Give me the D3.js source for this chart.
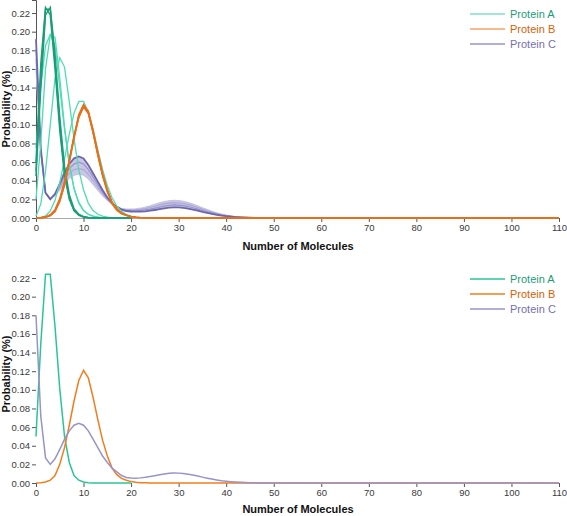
<!DOCTYPE html>
<html>
<head>
<meta charset="utf-8">
<script src="https://cdn.jsdelivr.net/npm/d3@7"></script>
<style>
  body { margin: 0; background: #fff; }
  svg { display: block; font-family: "Liberation Sans", Arial, sans-serif; }
</style>
</head>
<body>
<svg id="chart" width="567" height="516"></svg>
<script>
// ---------- data ----------
const moleculeCounts = [0,1,2,3,4,5,6,7,8,9,10,11,12,13,14,15,16,17,18,19,20,21,22,23,24,25,26,27,28,29,30,31,32,33,34,35,36,37,38,39,40,41,42,43,44,45,46,47,48,49,50,110];
const xTicks = [0,10,20,30,40,50,60,70,80,90,100,110];
const yTicks = [0,0.02,0.04,0.06,0.08,0.10,0.12,0.14,0.16,0.18,0.20,0.22];
const proteinNames = ["Protein A","Protein B","Protein C"];

// Top chart: ensemble runs, Protein A (0..20 molecules)
const proteinA_runDark1 = [0.050,0.149,0.224,0.224,0.168,0.101,0.050,0.022,0.008,0.003,0.001,0.0003,0.0001,0,0,0,0,0,0,0,0];
const proteinA_runDark2 = [0.060,0.165,0.226,0.218,0.160,0.094,0.046,0.020,0.008,0.003,0.001,0.0003,0.0001,0,0,0,0,0,0,0,0];
const proteinA_runDark3 = [0.045,0.140,0.218,0.226,0.175,0.108,0.055,0.025,0.010,0.004,0.0015,0.0005,0.0002,0,0,0,0,0,0,0,0];
const proteinA_runLight1 = [0.075,0.140,0.185,0.197,0.185,0.140,0.095,0.058,0.032,0.017,0.008,0.004,0.002,0.001,0,0,0,0,0,0,0];
const proteinA_runLight2 = [0.020,0.080,0.160,0.196,0.194,0.150,0.098,0.058,0.031,0.016,0.008,0.004,0.002,0.001,0.0004,0,0,0,0,0,0];
const proteinA_runLight3 = [0.002,0.015,0.050,0.100,0.150,0.172,0.162,0.125,0.085,0.052,0.030,0.016,0.008,0.004,0.002,0.001,0,0,0,0,0];
const proteinA_runLight4 = [0.0000,0.0005,0.0023,0.0076,0.0189,0.0378,0.0631,0.0901,0.1126,0.1251,0.1251,0.1137,0.0948,0.0729,0.0521,0.0347,0.0217,0.0128,0.0071,0.0037,0.0019];

// Top chart: ensemble runs, Protein B (0..50, 110)
const proteinB_run1 = [0.0001,0.0003,0.001,0.003,0.008,0.020,0.038,0.062,0.088,0.110,0.121,0.113,0.092,0.068,0.046,0.029,0.016,0.009,0.005,0.003,0.0015,0.0008,0.0004,0.0002,0.0001,0,0,0,0,0,0,0,0,0,0,0,0,0,0,0,0,0,0,0,0,0,0,0,0,0,0,0];
const proteinB_run2 = [0.0001,0.0004,0.0012,0.0035,0.009,0.021,0.039,0.062,0.087,0.108,0.119,0.112,0.092,0.069,0.047,0.030,0.017,0.010,0.0055,0.003,0.0016,0.0008,0.0004,0.0002,0.0001,0,0,0,0,0,0,0,0,0,0,0,0,0,0,0,0,0,0,0,0,0,0,0,0,0,0,0];
const proteinB_run3 = [0.0001,0.0002,0.0008,0.0025,0.007,0.018,0.036,0.061,0.088,0.111,0.122,0.114,0.092,0.067,0.045,0.028,0.015,0.008,0.0045,0.0025,0.0013,0.0007,0.0003,0.0001,0.0001,0,0,0,0,0,0,0,0,0,0,0,0,0,0,0,0,0,0,0,0,0,0,0,0,0,0,0];
const proteinB_run4 = [0.0001,0.0002,0.0008,0.0025,0.007,0.018,0.035,0.059,0.085,0.108,0.120,0.115,0.095,0.071,0.048,0.030,0.017,0.0095,0.005,0.003,0.0015,0.0008,0.0004,0.0002,0.0001,0,0,0,0,0,0,0,0,0,0,0,0,0,0,0,0,0,0,0,0,0,0,0,0,0,0,0];

// Top chart: ensemble runs, Protein C (0..50, 110)
const proteinC_run1 = [0.192,0.075,0.027,0.020,0.026,0.037,0.049,0.058,0.064,0.066,0.064,0.057,0.048,0.039,0.030,0.022,0.016,0.012,0.009,0.0075,0.007,0.0068,0.0069,0.0072,0.0078,0.0086,0.0095,0.0104,0.0111,0.0115,0.0114,0.0109,0.0101,0.0091,0.0079,0.0067,0.0055,0.0044,0.0034,0.0026,0.0019,0.0014,0.0010,0.0007,0.0005,0.0003,0.0002,0.0001,0.0001,0,0,0];
const proteinC_run2 = [0.181,0.073,0.027,0.020,0.025,0.035,0.045,0.053,0.058,0.060,0.058,0.052,0.044,0.036,0.028,0.021,0.016,0.012,0.0093,0.0082,0.0078,0.0078,0.0081,0.0087,0.0095,0.0106,0.0117,0.0128,0.0136,0.0140,0.0139,0.0133,0.0123,0.0110,0.0096,0.0081,0.0067,0.0053,0.0041,0.0031,0.0023,0.0017,0.0012,0.0008,0.0006,0.0003,0.0002,0.0001,0.0001,0,0,0];
const proteinC_run3 = [0.171,0.072,0.027,0.021,0.025,0.032,0.041,0.048,0.052,0.053,0.052,0.047,0.040,0.033,0.026,0.020,0.015,0.012,0.0097,0.0088,0.0087,0.0088,0.0093,0.0101,0.0113,0.0126,0.0140,0.0151,0.0160,0.0165,0.0163,0.0156,0.0144,0.0130,0.0113,0.0096,0.0078,0.0063,0.0049,0.0037,0.0027,0.0019,0.0013,0.0009,0.0006,0.0004,0.0003,0.0002,0.0001,0.0001,0,0];
const proteinC_run4 = [0.160,0.070,0.027,0.021,0.024,0.030,0.037,0.043,0.046,0.047,0.046,0.042,0.036,0.030,0.024,0.019,0.015,0.012,0.010,0.0095,0.0095,0.0098,0.0105,0.0116,0.0130,0.0146,0.0162,0.0175,0.0185,0.0190,0.0188,0.0180,0.0166,0.0149,0.0130,0.0110,0.0090,0.0072,0.0056,0.0042,0.0031,0.0022,0.0015,0.0010,0.0007,0.0004,0.0003,0.0002,0.0001,0.0001,0,0];

// Bottom chart: single distributions
const proteinA_final = [0.050,0.149,0.224,0.224,0.168,0.101,0.050,0.022,0.008,0.003,0.001,0.0003,0.0001,0,0,0,0,0,0,0,0];
const proteinB_final = [0.0001,0.0003,0.001,0.003,0.008,0.020,0.038,0.062,0.088,0.110,0.121,0.113,0.092,0.068,0.046,0.029,0.016,0.009,0.005,0.003,0.0015,0.0008,0.0004,0.0002,0.0001,0,0,0,0,0,0,0,0,0,0,0,0,0,0,0,0,0,0,0,0,0,0,0,0,0,0,0];
const proteinC_final = [0.180,0.072,0.027,0.020,0.026,0.036,0.047,0.056,0.062,0.064,0.062,0.056,0.047,0.038,0.029,0.022,0.016,0.012,0.008,0.006,0.0053,0.0052,0.0055,0.0061,0.0069,0.0078,0.0088,0.0097,0.0104,0.0107,0.0106,0.0101,0.0094,0.0085,0.0074,0.0063,0.0052,0.0042,0.0033,0.0025,0.0019,0.0014,0.0010,0.0007,0.0005,0.0003,0.0002,0.0001,0.0001,0,0,0];

// ---------- drawing ----------
const svg = d3.select("#chart");
const left = 36, right = 559;
const x = d3.scaleLinear().domain([0,110]).range([left, right]);
const yMax = 0.234;
const yTop = d3.scaleLinear().domain([0, yMax]).range([218, 0]);
const yBot = d3.scaleLinear().domain([0, yMax]).range([483, 265]);

function pts(values) { return values.map((v,i) => [moleculeCounts[i], v]); }
function lineGen(y) { return d3.line().x(d => x(d[0])).y(d => y(d[1])); }

function drawAxes(g, y, withDomain, yBase) {
  const xa = g.append("g").attr("transform", `translate(0,${yBase})`)
    .call(d3.axisBottom(x).tickValues(xTicks).tickSize(4).tickPadding(2).tickFormat(d3.format("d")));
  const ya = g.append("g").attr("transform", `translate(${left},0)`)
    .call(d3.axisLeft(y).tickValues(yTicks).tickSize(4).tickPadding(2).tickFormat(d3.format(".2f")));
  [xa, ya].forEach(a => {
    a.selectAll("text").attr("fill", "#3a3a3a").style("font-size", "9.5px").style("font-family", "Liberation Sans, Arial, sans-serif");
    a.selectAll(".tick line").attr("stroke", "#555");
  });
  if (withDomain) {
    xa.select(".domain").attr("stroke", "#aaa");
    ya.select(".domain").attr("stroke", "#555");
  } else {
    xa.select(".domain").remove();
    ya.select(".domain").remove();
  }
}

function titles(g, yMid, xTitleY) {
  g.append("text").attr("x", 298).attr("y", xTitleY).attr("text-anchor", "middle")
    .style("font-size", "11px").style("font-weight", "bold").attr("fill", "#111").text("Number of Molecules");
  g.append("text").attr("transform", `translate(10,${yMid}) rotate(-90)`).attr("text-anchor", "middle")
    .style("font-size", "11px").style("font-weight", "bold").attr("fill", "#111").text("Probability (%)");
}

function legend(g, y0, lineColors) {
  const textColors = ["#1b9e77", "#d95f02", "#7570b3"];
  proteinNames.forEach((name, i) => {
    const yy = y0 + i * 15;
    g.append("line").attr("x1", 470).attr("x2", 505).attr("y1", yy).attr("y2", yy)
      .attr("stroke", lineColors[i]).attr("stroke-width", 1.5);
    g.append("text").attr("x", 510).attr("y", yy).attr("dy", "0.35em")
      .style("font-size", "11px").attr("fill", textColors[i]).text(name);
  });
}

// ----- top chart -----
const topG = svg.append("g");
drawAxes(topG, yTop, true, 218);
const lt = lineGen(yTop);

// purple band (spread of runs)
const cBand = d3.area().x((d,i) => x(moleculeCounts[i])).y0((d,i) => yTop(proteinC_run1[i])).y1((d,i) => yTop(proteinC_run4[i]));
topG.append("path").datum(proteinC_run1).attr("d", cBand).attr("fill", "#bfbcdf").attr("opacity", 0.85);
[[proteinC_run4, "#c6c3e3", 1.2], [proteinC_run3, "#aeaad6", 1.2], [proteinC_run2, "#9893c8", 1.2], [proteinC_run1, "#6c66ae", 1.8]].forEach(([vals, col, w]) => {
  topG.append("path").datum(pts(vals)).attr("d", lt).attr("fill", "none").attr("stroke", col).attr("stroke-width", w);
});

[proteinA_runLight1, proteinA_runLight2, proteinA_runLight3, proteinA_runLight4].forEach(vals => {
  topG.append("path").datum(pts(vals)).attr("d", lt).attr("fill", "none").attr("stroke", "#4fdcb4").attr("stroke-width", 1.3);
});
[proteinA_runDark1, proteinA_runDark2, proteinA_runDark3].forEach(vals => {
  topG.append("path").datum(pts(vals)).attr("d", lt).attr("fill", "none").attr("stroke", "#1b9e77").attr("stroke-width", 1.5);
});
[proteinB_run1, proteinB_run2, proteinB_run3, proteinB_run4].forEach(vals => {
  topG.append("path").datum(pts(vals)).attr("d", lt).attr("fill", "none").attr("stroke", "#e86f1a").attr("stroke-width", 1.4);
});
titles(topG, 109, 250);
legend(topG, 14, ["#7fe2c6", "#f4a366", "#9893c8"]);

// ----- bottom chart -----
const botG = svg.append("g");
drawAxes(botG, yBot, false, 483);
const lb = lineGen(yBot);
[[proteinA_final, "#2ac597"], [proteinB_final, "#f07d1e"], [proteinC_final, "#9893c8"]].forEach(([vals, col]) => {
  botG.append("path").datum(pts(vals)).attr("d", lb).attr("fill", "none").attr("stroke", col).attr("stroke-width", 1.5);
});
titles(botG, 374, 513);
legend(botG, 279, ["#2ac597", "#f07d1e", "#9893c8"]);
</script>
</body>
</html>
